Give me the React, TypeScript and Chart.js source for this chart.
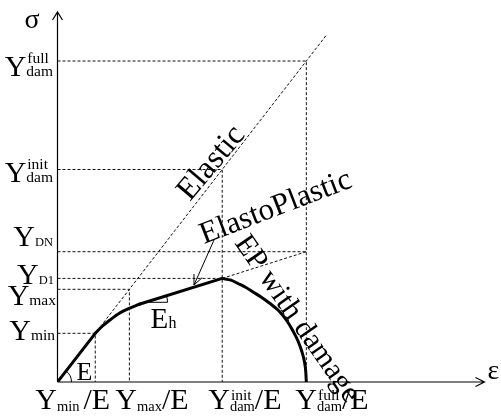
import React, { useEffect, useRef } from 'react';
import { Chart, registerables } from 'chart.js';

Chart.register(...registerables);

const FONT = "'Liberation Serif', 'Times New Roman', serif";

// Material constants (chart units)
const E_MODULUS = 1.29;
const Y_MIN = 48.7;
const Y_MAX = 92.7;
const Y_D1 = 103.6;
const Y_DN = 130.3;
const Y_DAM_INIT = 212.5;
const Y_DAM_FULL = 321;
const ELASTIC_END_STRAIN = 269;

const AXIS_STRAIN_MAX = 427;
const AXIS_STRESS_MAX = 370;

// Solid stress-strain response, split in its four branches (strain, stress)
const elasticStrain = [0, 37.75];
const elasticStress = [0, 48.7];
const transitionStrain = [37.75, 44.5, 52.5, 61.5, 71.8, 82.5];
const transitionStress = [48.7, 55.5, 62, 68.5, 73.7, 78];
const hardeningStrain = [82.5, 164.7];
const hardeningStress = [78, 103.6];
const softeningStrain = [164.7, 173.5, 180.5, 188.5, 195.5, 203.5, 212.5, 221.5, 229.5, 235.5, 240.5, 244.5, 247, 248.3, 248.8];
const softeningStress = [103.6, 101.8, 98.5, 94.5, 90, 85, 78.5, 71, 61, 51, 41, 30, 20, 10, 0];

// Tick labels
const stressLevels = [Y_MIN, Y_MAX, Y_D1, Y_DN, Y_DAM_INIT, Y_DAM_FULL];
const stressSubs = ['min', 'max', 'D1', 'DN', 'dam', 'dam'];
const stressSups = ['', '', '', '', 'init', 'full'];
const strainLevels = [Y_MIN, Y_MAX, Y_DAM_INIT, Y_DAM_FULL];
const strainSubs = ['min', 'max', 'dam', 'dam'];
const strainSups = ['', '', 'init', 'full'];

const pt = (x: number, y: number) => ({ x, y });
const zip = (xs: number[], ys: number[]) => xs.map((x, i) => pt(x, ys[i]));

function composite(
  ctx: CanvasRenderingContext2D,
  x: number,
  base: number,
  sub: string,
  sup: string,
  tail: string,
  align: 'left' | 'right',
  subDy: number,
  supDy: number,
  small: number,
  gap: number
) {
  const MAIN = 30;
  ctx.font = `${MAIN}px ${FONT}`;
  const wY = ctx.measureText('Y').width;
  const wTail = tail ? ctx.measureText(tail).width : 0;
  ctx.font = `${small}px ${FONT}`;
  const wSub = sub ? ctx.measureText(sub).width : 0;
  ctx.font = `15.5px ${FONT}`;
  const wSup = sup ? ctx.measureText(sup).width : 0;
  const total = wY + Math.max(wSub, wSup) + gap + wTail;
  const x0 = align === 'right' ? x - total : x;
  ctx.textAlign = 'left';
  ctx.textBaseline = 'alphabetic';
  ctx.fillStyle = '#000';
  ctx.font = `${MAIN}px ${FONT}`;
  ctx.fillText('Y', x0, base);
  ctx.font = `${small}px ${FONT}`;
  if (sub) ctx.fillText(sub, x0 + wY, base + subDy);
  ctx.font = `15.5px ${FONT}`;
  if (sup) ctx.fillText(sup, x0 + wY + 1, base + supDy);
  if (tail) {
    ctx.font = `${MAIN}px ${FONT}`;
    ctx.fillText(tail, x0 + wY + Math.max(wSub, wSup) + gap, base);
  }
}

function rotatedText(ctx: CanvasRenderingContext2D, text: string, x: number, y: number, deg: number, size: number) {
  ctx.save();
  ctx.translate(x, y);
  ctx.rotate((deg * Math.PI) / 180);
  ctx.font = `${size}px ${FONT}`;
  ctx.fillStyle = '#000';
  ctx.textAlign = 'left';
  ctx.textBaseline = 'alphabetic';
  ctx.fillText(text, 0, 0);
  ctx.restore();
}

const annotatePlugin = {
  id: 'annotate',
  beforeDatasetsDraw(chart: any) {
    const ctx: CanvasRenderingContext2D = chart.ctx;
    const sx = chart.scales.x;
    const sy = chart.scales.y;
    const x0 = sx.getPixelForValue(0);
    const y0 = sy.getPixelForValue(0);
    const xR = sx.getPixelForValue(AXIS_STRAIN_MAX);
    const yT = sy.getPixelForValue(AXIS_STRESS_MAX);
    ctx.save();
    ctx.strokeStyle = '#000';
    ctx.lineWidth = 1.2;
    ctx.beginPath();
    ctx.moveTo(x0, y0);
    ctx.lineTo(x0, yT);
    ctx.moveTo(x0 - 5, yT + 8);
    ctx.lineTo(x0, yT);
    ctx.lineTo(x0 + 5, yT + 8);
    ctx.moveTo(x0, y0);
    ctx.lineTo(xR, y0);
    ctx.moveTo(xR - 9, y0 - 4.5);
    ctx.lineTo(xR, y0);
    ctx.lineTo(xR - 9, y0 + 4.5);
    ctx.stroke();
    ctx.restore();
  },
  afterDatasetsDraw(chart: any) {
    const ctx: CanvasRenderingContext2D = chart.ctx;
    const sx = chart.scales.x;
    const sy = chart.scales.y;
    const X = (v: number) => sx.getPixelForValue(v);
    const Yp = (v: number) => sy.getPixelForValue(v);
    const x0 = X(0);
    const y0 = Yp(0);
    ctx.save();

    // axis titles
    ctx.fillStyle = '#000';
    ctx.textAlign = 'left';
    ctx.textBaseline = 'alphabetic';
    ctx.font = `28px ${FONT}`;
    ctx.fillText('σ', x0 - 33, Yp(AXIS_STRESS_MAX) + 16);
    ctx.fillText('ε', X(AXIS_STRAIN_MAX) + 3, y0 - 3);

    // stress labels (left)
    const leftBase = [7, 16, 6, -6, 12.5, 15];
    const leftRight = [55, 56, 54, 53, 53, 53];
    const leftSmall = [15.5, 15.5, 12.5, 12.5, 15.5, 15.5];
    stressLevels.forEach((lv, i) => {
      composite(ctx, leftRight[i], Yp(lv) + leftBase[i], stressSubs[i], stressSups[i], '', 'right', 0, -13, leftSmall[i], 0);
    });

    // strain labels (bottom)
    const bottomShift = [-60, -14, -14, -11];
    const bottomGap = [4, 0, 0, 0];
    strainLevels.forEach((lv, i) => {
      composite(ctx, X(lv / E_MODULUS) + bottomShift[i], y0 + 27, strainSubs[i], strainSups[i], '/E', 'left', 2, -9, 14.5, bottomGap[i]);
    });

    // modulus E at origin
    ctx.strokeStyle = '#000';
    ctx.lineWidth = 1;
    ctx.beginPath();
    ctx.arc(x0, y0, 14, -Math.atan(E_MODULUS), 0);
    ctx.stroke();
    ctx.font = `26px ${FONT}`;
    ctx.fillText('E', x0 + 19, y0 - 2);

    // hardening modulus Eh
    const slope = (hardeningStress[1] - hardeningStress[0]) / (hardeningStrain[1] - hardeningStrain[0]);
    const cxv = hardeningStrain[0] + 5.5;
    const cyv = hardeningStress[0] + 5.5 * slope;
    const cx = X(cxv), cy = Yp(cyv);
    const pxSlope = (Yp(hardeningStress[0]) - Yp(hardeningStress[1])) / (X(hardeningStrain[1]) - X(hardeningStrain[0]));
    ctx.beginPath();
    ctx.moveTo(cx + 3, cy);
    ctx.lineTo(cx + 22, cy);
    ctx.arc(cx, cy, 22, 0, -Math.atan(pxSlope), true);
    ctx.stroke();
    ctx.font = `29px ${FONT}`;
    ctx.fillText('E', cx + 5, cy + 26);
    ctx.font = `16px ${FONT}`;
    ctx.fillText('h', cx + 23, cy + 26);

    // arrow from ElastoPlastic
    const ax1 = 214, ay1 = 240, ax2 = 194, ay2 = 285;
    ctx.beginPath();
    ctx.moveTo(ax1, ay1);
    ctx.lineTo(ax2, ay2);
    const ang = Math.atan2(ay1 - ay2, ax1 - ax2);
    const wing = 11;
    ctx.moveTo(ax2 + wing * Math.cos(ang - 0.42), ay2 + wing * Math.sin(ang - 0.42));
    ctx.lineTo(ax2, ay2);
    ctx.lineTo(ax2 + wing * Math.cos(ang + 0.42), ay2 + wing * Math.sin(ang + 0.42));
    ctx.stroke();

    // rotated annotations
    rotatedText(ctx, 'Elastic', 190, 202, -50, 32);
    rotatedText(ctx, 'ElastoPlastic', 204, 244, -21, 31);
    rotatedText(ctx, 'EP with damage', 234, 243, 55, 30);

    ctx.restore();
  },
};

const dashed = (data: { x: number; y: number }[]) => ({
  data,
  showLine: true,
  borderColor: '#111',
  borderWidth: 1,
  borderDash: [3, 2],
  pointRadius: 0,
  fill: false,
  tension: 0,
});

const solid = (data: { x: number; y: number }[], curved: boolean) => ({
  data,
  showLine: true,
  borderColor: '#000',
  borderWidth: 3,
  pointRadius: 0,
  fill: false,
  tension: 0,
  cubicInterpolationMode: curved ? 'monotone' : 'default',
  borderJoinStyle: 'round',
  borderCapStyle: 'round',
});

export default function App() {
  const ref = useRef<HTMLCanvasElement>(null);
  useEffect(() => {
    if (!ref.current) return;
    const eInit = Y_DAM_INIT / E_MODULUS;
    const eFull = Y_DAM_FULL / E_MODULUS;
    const eMax = Y_MAX / E_MODULUS;
    const eMin = Y_MIN / E_MODULUS;
    const chart = new Chart(ref.current, {
      type: 'scatter',
      data: {
        datasets: [
          dashed([pt(0, 0), pt(ELASTIC_END_STRAIN, ELASTIC_END_STRAIN * E_MODULUS)]),
          dashed([pt(0, Y_DAM_FULL), pt(eFull, Y_DAM_FULL), pt(eFull, 0)]),
          dashed([pt(0, Y_DAM_INIT), pt(eInit, Y_DAM_INIT), pt(eInit, 0)]),
          dashed([pt(0, Y_DN), pt(eFull, Y_DN)]),
          dashed([pt(0, Y_D1), pt(eInit, Y_D1)]),
          dashed([pt(eInit, Y_D1), pt(eFull, Y_DN)]),
          dashed([pt(0, Y_MAX), pt(eMax, Y_MAX), pt(eMax, 0)]),
          dashed([pt(0, Y_MIN), pt(eMin, Y_MIN), pt(eMin, 0)]),
          solid(zip(elasticStrain, elasticStress), false) as any,
          solid(zip(transitionStrain, transitionStress), true) as any,
          solid(zip(hardeningStrain, hardeningStress), false) as any,
          solid(zip(softeningStrain, softeningStress), true) as any,
        ],
      },
      options: {
        responsive: false,
        animation: false,
        layout: { padding: { left: 57.5, right: 16.5, top: 12, bottom: 37 } },
        plugins: { legend: { display: false }, tooltip: { enabled: false } },
        scales: {
          x: { type: 'linear', min: 0, max: AXIS_STRAIN_MAX, display: false },
          y: { type: 'linear', min: 0, max: AXIS_STRESS_MAX, display: false },
        },
      },
      plugins: [annotatePlugin],
    });
    return () => chart.destroy();
  }, []);
  return (
    <div style={{ position: 'absolute', left: 0, top: 0, width: 501, height: 419, background: '#fff' }}>
      <canvas ref={ref} width={501} height={419} style={{ display: 'block' }} />
    </div>
  );
}
